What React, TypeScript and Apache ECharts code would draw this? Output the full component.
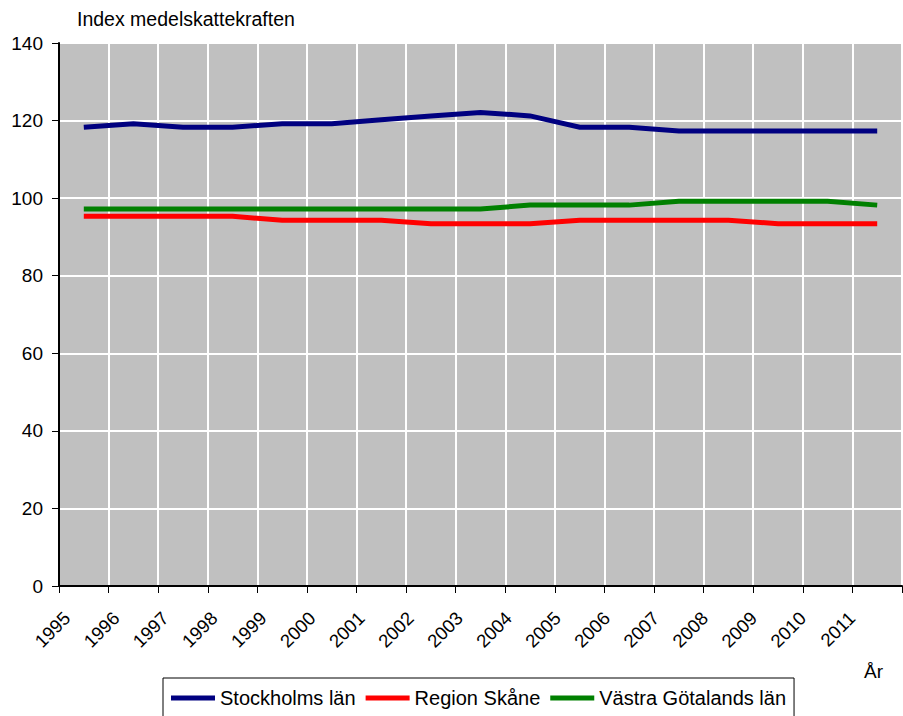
import React, { useEffect, useRef } from "react";
import * as echarts from "echarts";

const years = [1995, 1996, 1997, 1998, 1999, 2000, 2001, 2002, 2003, 2004, 2005, 2006, 2007, 2008, 2009, 2010, 2011];
const stockholm = [118.3, 119.2, 118.3, 118.3, 119.2, 119.2, 120.2, 121.2, 122.1, 121.2, 118.3, 118.3, 117.3, 117.3, 117.3, 117.3, 117.3];
const skane = [95.3, 95.3, 95.3, 95.3, 94.3, 94.3, 94.3, 93.4, 93.4, 93.4, 94.3, 94.3, 94.3, 94.3, 93.4, 93.4, 93.4];
const vastra = [97.2, 97.2, 97.2, 97.2, 97.2, 97.2, 97.2, 97.2, 97.2, 98.2, 98.2, 98.2, 99.2, 99.2, 99.2, 99.2, 98.2];
const seriesNames = ["Stockholms län", "Region Skåne", "Västra Götalands län"];
const seriesColors = ["#000080", "#FF0000", "#008000"];
const yTicks = [0, 20, 40, 60, 80, 100, 120, 140];
const yTitle = "Index medelskattekraften";
const xTitle = "År";

const FONT = "'Liberation Sans', Arial, sans-serif";

export default function App() {
  const ref = useRef<HTMLDivElement>(null);
  useEffect(() => {
    if (!ref.current) return;
    const chart = echarts.init(ref.current, null, { renderer: "svg" });
    const allSeries = [stockholm, skane, vastra];
    const firstYear = years[0];
    const lastYear = years[years.length - 1] + 1;
    chart.setOption({
      animation: false,
      backgroundColor: "#ffffff",
      textStyle: { fontFamily: FONT },
      grid: [
        {
          left: 59, top: 43, width: 843, height: 543,
          show: true, backgroundColor: "#C0C0C0", borderColor: "#808080", borderWidth: 1,
        },
        { left: 67, top: 43, width: 843, height: 543, show: false },
      ],
      xAxis: [
        {
          type: "value", gridIndex: 0, min: firstYear, max: lastYear, interval: 1,
          axisLine: { show: true, lineStyle: { color: "#000", width: 2 } },
          axisTick: { show: true, inside: false, length: 7, lineStyle: { color: "#000", width: 1 } },
          axisLabel: { show: false },
          splitLine: { show: true, lineStyle: { color: "#ffffff", width: 2 } },
        },
        {
          type: "value", gridIndex: 1, min: firstYear, max: lastYear, interval: 1,
          axisLine: { show: false }, axisTick: { show: false }, splitLine: { show: false },
          axisLabel: {
            show: true, rotate: 45, margin: 29, fontSize: 18.5, color: "#000", fontFamily: FONT,
            formatter: (v: number) => (years.indexOf(v) >= 0 ? String(v) : ""),
          },
        },
      ],
      yAxis: [
        {
          type: "value", gridIndex: 0, min: yTicks[0], max: yTicks[yTicks.length - 1], interval: 20,
          axisLine: { show: true, lineStyle: { color: "#000", width: 2 } },
          axisTick: { show: true, inside: false, length: 7, lineStyle: { color: "#000", width: 1 } },
          axisLabel: { show: true, margin: 16, fontSize: 19, color: "#000", fontFamily: FONT },
          splitLine: { show: true, lineStyle: { color: "#ffffff", width: 2 } },
        },
        { type: "value", gridIndex: 1, min: 0, max: 1, show: false },
      ],
      legend: {
        show: true,
        left: 163, top: 678,
        orient: "horizontal",
        padding: [10, 8, 10, 8],
        borderColor: "#000", borderWidth: 1,
        itemWidth: 44, itemHeight: 5, itemGap: 10,
        textStyle: { fontSize: 20, color: "#000", fontFamily: FONT },
        data: seriesNames.map((n) => ({ name: n, icon: "rect" })),
      },
      graphic: [
        {
          type: "text", left: 77, top: 9,
          style: { text: yTitle, fontSize: 19.5, fill: "#000", fontFamily: FONT },
        },
        {
          type: "text", left: 864, top: 662,
          style: { text: xTitle, fontSize: 19, fill: "#000", fontFamily: FONT },
        },
      ],
      series: allSeries.map((vals, i) => ({
        name: seriesNames[i],
        type: "line",
        xAxisIndex: 0, yAxisIndex: 0,
        data: vals.map((v, j) => [years[j] + 0.5, v]),
        showSymbol: false,
        symbol: "none",
        itemStyle: { color: seriesColors[i] },
        lineStyle: { color: seriesColors[i], width: 5, join: "miter" },
      })),
    });
    return () => chart.dispose();
  }, []);
  return <div ref={ref} style={{ width: 903, height: 716, position: "absolute", left: 0, top: 0 }} />;
}
